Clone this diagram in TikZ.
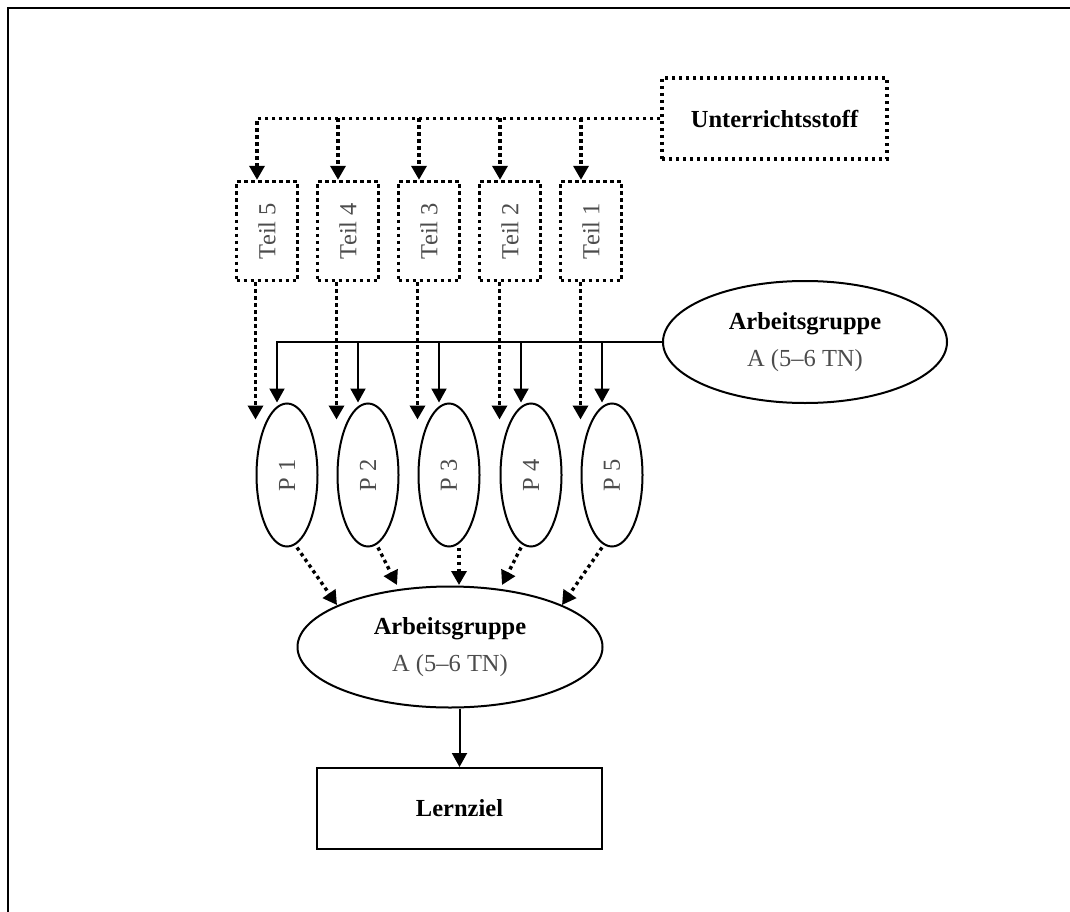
\documentclass[tikz,border=0pt]{standalone}
\usepackage{fontspec}
\setmainfont{Liberation Serif}
\usetikzlibrary{arrows.meta,calc,shapes.geometric}
\definecolor{txtgray}{gray}{0.3}
\begin{document}
\begin{tikzpicture}[x=1pt,y=-1pt,
  txt/.style={font=\fontsize{24.5}{37}\selectfont},
  dotbox/.style={draw, line width=3.4pt, dash pattern=on 3.4pt off 3.6pt, inner sep=0pt, txt},
  teilbox/.style={dotbox, minimum width=61pt, minimum height=99pt, text=txtgray},
  pell/.style={draw, ellipse, line width=2pt, inner sep=0pt, minimum width=61pt, minimum height=143pt, txt, text=txtgray},
  agell/.style={draw, ellipse, line width=2pt, inner sep=0pt, align=center, txt},
  lzbox/.style={draw, line width=2pt, inner sep=0pt, txt},
  dotarrow/.style={line width=3.4pt, dash pattern=on 3.4pt off 3.6pt, -{Triangle[width=15pt,length=14pt]}},
  solidarrow/.style={line width=2pt, -{Triangle[width=15pt,length=14pt]}}
]
\useasboundingbox (0,0) rectangle (1070,912);
% outer frame
\draw[line width=2.2pt] (8,912) -- (8,8) -- (1070,8);

% source box
\node[dotbox, minimum width=225pt, minimum height=81pt] (u) at (774.5,118.5) {\bfseries Unterrichtsstoff};

% parts
\node[teilbox] (t5) at (267,231) {\rotatebox{90}{Teil 5}};
\node[teilbox] (t4) at (348,231) {\rotatebox{90}{Teil 4}};
\node[teilbox] (t3) at (429,231) {\rotatebox{90}{Teil 3}};
\node[teilbox] (t2) at (510,231) {\rotatebox{90}{Teil 2}};
\node[teilbox] (t1) at (591,231) {\rotatebox{90}{Teil 1}};

% top group ellipse
\node[agell, minimum width=284pt, minimum height=122pt] (ag1) at (805,342)
  {\bfseries Arbeitsgruppe\\{\color{txtgray}A (5--6 TN)}};

% persons
\node[pell] (p1) at (287,475) {\rotatebox{90}{P 1}};
\node[pell] (p2) at (368,475) {\rotatebox{90}{P 2}};
\node[pell] (p3) at (449,475) {\rotatebox{90}{P 3}};
\node[pell] (p4) at (531,475) {\rotatebox{90}{P 4}};
\node[pell] (p5) at (612,475) {\rotatebox{90}{P 5}};

% bottom group ellipse
\node[agell, minimum width=305pt, minimum height=121pt] (ag2) at (450,647)
  {\bfseries Arbeitsgruppe\\{\color{txtgray}A (5--6 TN)}};

% goal
\node[lzbox, minimum width=285pt, minimum height=81pt] (lz) at (459.5,808.5) {\bfseries Lernziel};

% --- coordinates
\foreach \t in {1,...,5}{
  \coordinate (n\t) at ($(t\t.north)+(-10,0)$);
}
\foreach \p in {1,...,5}{
  \coordinate (s\p) at ($(p\p.north)+(-10,0)$);
  \coordinate (d\p) at ($(p\p.west |- p\p.north)+(0,17)$);
}
\coordinate (b1) at ($(p1.south)+(10,0)$);
\coordinate (b2) at ($(p2.south)+(10,0)$);
\coordinate (b3) at ($(p3.south)+(10,0)$);
\coordinate (b4) at ($(p4.south)+(-10,0)$);
\coordinate (b5) at ($(p5.south)+(-10,0)$);
\coordinate (e1) at ($(ag2.center)+(-113,-42)$);
\coordinate (e2) at ($(ag2.center)+(-53,-62)$);
\coordinate (e3) at ($(ag2.center)+(9,-62)$);
\coordinate (e4) at ($(ag2.center)+(52,-62)$);
\coordinate (e5) at ($(ag2.center)+(112,-42)$);

% source -> parts
\draw[dotarrow] (u.west) -| (n5);
\foreach \t in {4,3,2,1}{
  \draw[dotarrow] (n\t |- u.west) -- (n\t);
}
% parts -> persons
\draw[dotarrow] (d1 |- t5.south) -- (d1);
\draw[dotarrow] (d2 |- t4.south) -- (d2);
\draw[dotarrow] (d3 |- t3.south) -- (d3);
\draw[dotarrow] (d4 |- t2.south) -- (d4);
\draw[dotarrow] (d5 |- t1.south) -- (d5);

% group -> persons
\draw[solidarrow] (ag1.west) -| (s1);
\foreach \p in {2,...,5}{
  \draw[solidarrow] (s\p |- ag1.west) -- (s\p);
}

% persons -> group
\foreach \p in {1,...,5}{
  \draw[dotarrow] (b\p) -- (e\p);
}

% group -> goal
\draw[solidarrow] (ag2.south -| lz.north) -- (lz.north);
\end{tikzpicture}
\end{document}
